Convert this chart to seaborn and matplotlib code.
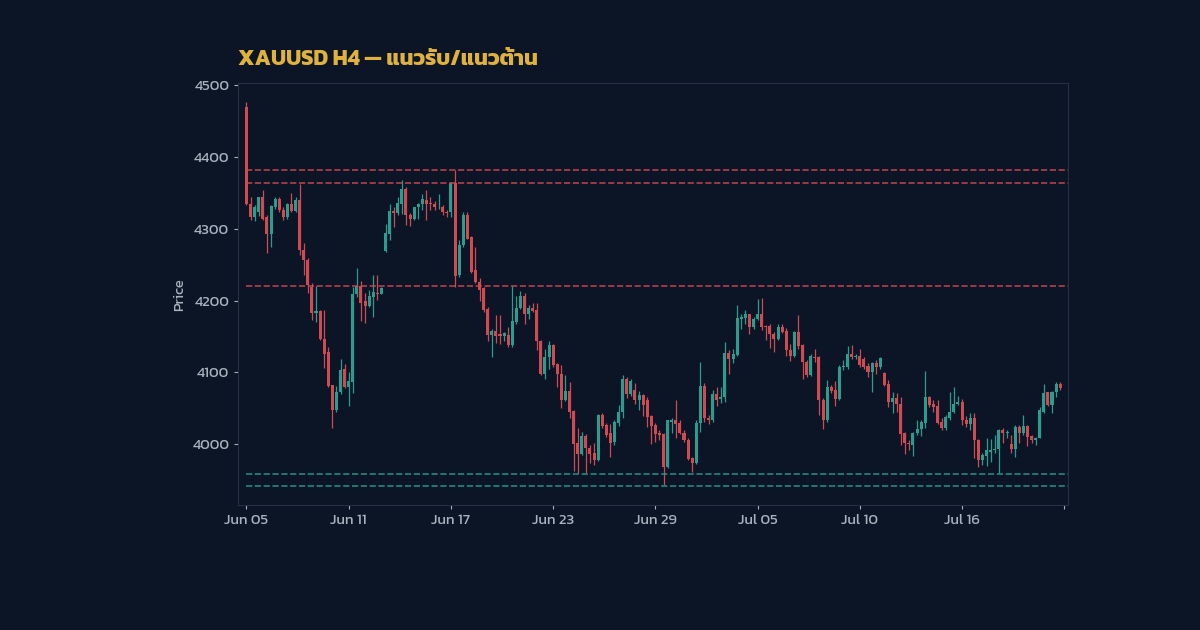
import numpy as np
import matplotlib
matplotlib.use("Agg")
import matplotlib.pyplot as plt
import seaborn as sns

# H4 candles (index 0 = Jun 05)
opens = [4470, 4335, 4317, 4324, 4345, 4317, 4293, 4331, 4342, 4326,
         4317, 4335, 4325, 4340, 4271, 4257, 4219, 4183, 4186, 4147,
         4129, 4082, 4047, 4073, 4104, 4079, 4087, 4209, 4220, 4200,
         4193, 4205, 4211, 4209, 4269, 4293, 4325, 4322, 4335, 4356,
         4320, 4314, 4330, 4334, 4340, 4336, 4334, 4334, 4331, 4324,
         4324, 4364, 4235, 4277, 4319, 4288, 4242, 4226, 4217, 4188,
         4152, 4158, 4153, 4150, 4152, 4138, 4170, 4189, 4207, 4182,
         4190, 4187, 4144, 4098, 4122, 4138, 4111, 4098, 4061, 4074,
         4046, 4002, 3986, 4011, 3994, 3987, 3978, 4040, 4027, 4015,
         4003, 4029, 4044, 4090, 4070, 4075, 4062, 4068, 4061, 4039,
         4026, 4016, 4014, 3968, 4031, 4033, 4029, 4015, 4006, 3980,
         3974, 4030, 4081, 4037, 4033, 4070, 4063, 4065, 4127, 4119,
         4124, 4175, 4176, 4181, 4163, 4175, 4182, 4165, 4165, 4154,
         4146, 4163, 4157, 4131, 4123, 4156, 4138, 4115, 4096, 4122,
         4122, 4061, 4033, 4080, 4075, 4063, 4108, 4108, 4126, 4121,
         4123, 4119, 4109, 4101, 4113, 4107, 4099, 4084, 4059, 4064,
         4056, 4016, 4002, 3999, 4016, 4021, 4030, 4066, 4056, 4053,
         4031, 4022, 4036, 4045, 4056, 4058, 4034, 4028, 4037, 4006,
         3978, 3983, 3989, 3992, 3993, 4019, 4015, 4000, 3993, 4024,
         4016, 4025, 4011, 4006, 4009, 4045, 4072, 4054, 4073, 4084]
highs = [4477, 4345, 4333, 4345, 4354, 4320, 4333, 4345, 4345, 4331,
         4336, 4350, 4344, 4363, 4280, 4259, 4224, 4220, 4187, 4187,
         4136, 4083, 4081, 4118, 4112, 4100, 4219, 4246, 4228, 4210,
         4215, 4235, 4235, 4219, 4307, 4335, 4331, 4344, 4368, 4358,
         4322, 4331, 4336, 4349, 4354, 4345, 4339, 4349, 4333, 4327,
         4365, 4382, 4285, 4324, 4324, 4290, 4275, 4231, 4219, 4191,
         4161, 4180, 4180, 4156, 4163, 4221, 4206, 4213, 4211, 4194,
         4196, 4197, 4145, 4132, 4144, 4140, 4113, 4110, 4096, 4087,
         4047, 4022, 4017, 4014, 3999, 4001, 4042, 4043, 4030, 4028,
         4033, 4054, 4096, 4093, 4091, 4085, 4074, 4070, 4066, 4040,
         4029, 4020, 4015, 4034, 4036, 4062, 4033, 4020, 4009, 3982,
         4034, 4115, 4085, 4040, 4075, 4080, 4080, 4142, 4131, 4133,
         4194, 4182, 4187, 4182, 4177, 4202, 4203, 4166, 4167, 4156,
         4167, 4168, 4162, 4140, 4157, 4180, 4139, 4117, 4126, 4133,
         4123, 4064, 4089, 4083, 4088, 4110, 4117, 4137, 4138, 4126,
         4133, 4121, 4113, 4115, 4117, 4121, 4100, 4089, 4073, 4071,
         4066, 4017, 4006, 4017, 4034, 4034, 4102, 4067, 4061, 4061,
         4037, 4040, 4073, 4080, 4067, 4063, 4039, 4043, 4043, 4007,
         3987, 4008, 4007, 4013, 4021, 4022, 4019, 4013, 4027, 4026,
         4040, 4027, 4013, 4010, 4052, 4084, 4073, 4074, 4086, 4086]
lows = [4333, 4313, 4311, 4318, 4312, 4267, 4275, 4328, 4324, 4312,
        4314, 4324, 4324, 4263, 4235, 4210, 4173, 4170, 4145, 4106,
        4080, 4023, 4045, 4070, 4078, 4053, 4071, 4205, 4171, 4169,
        4191, 4177, 4201, 4209, 4268, 4284, 4303, 4319, 4321, 4305,
        4304, 4312, 4314, 4326, 4313, 4326, 4327, 4328, 4319, 4317,
        4317, 4219, 4233, 4275, 4286, 4238, 4224, 4200, 4184, 4143,
        4122, 4141, 4140, 4143, 4136, 4136, 4168, 4188, 4168, 4174,
        4184, 4131, 4096, 4090, 4104, 4108, 4080, 4050, 4060, 4036,
        3962, 3960, 3985, 3960, 3973, 3971, 3977, 4022, 4010, 3982,
        3999, 4025, 4036, 4064, 4067, 4056, 4047, 4039, 4024, 4000,
        4003, 4006, 3943, 3967, 4015, 4008, 4014, 4003, 3978, 3961,
        3972, 4017, 4031, 4028, 4031, 4053, 4057, 4059, 4098, 4113,
        4123, 4161, 4168, 4154, 4161, 4173, 4159, 4145, 4134, 4129,
        4145, 4155, 4123, 4116, 4122, 4133, 4091, 4094, 4095, 4115,
        4040, 4021, 4031, 4071, 4053, 4061, 4103, 4105, 4118, 4119,
        4108, 4104, 4094, 4072, 4097, 4105, 4081, 4051, 4043, 4045,
        3999, 3986, 3992, 3983, 4013, 4011, 4022, 4051, 4044, 4028,
        4020, 4019, 4034, 4043, 4054, 4026, 4024, 4020, 3980, 3968,
        3971, 3969, 3975, 3987, 3959, 4001, 4008, 3988, 3982, 4001,
        4013, 3997, 4001, 3999, 4008, 4043, 4053, 4043, 4065, 4075]
closes = [4335, 4317, 4330, 4345, 4314, 4293, 4332, 4342, 4326, 4316,
          4335, 4325, 4340, 4270, 4257, 4222, 4183, 4185, 4146, 4126,
          4081, 4047, 4073, 4103, 4079, 4088, 4209, 4220, 4196, 4192,
          4206, 4212, 4209, 4218, 4294, 4325, 4322, 4336, 4356, 4319,
          4314, 4330, 4334, 4341, 4335, 4334, 4330, 4335, 4323, 4322,
          4364, 4234, 4277, 4319, 4286, 4240, 4226, 4215, 4187, 4152,
          4158, 4150, 4150, 4155, 4138, 4171, 4190, 4207, 4182, 4189,
          4186, 4143, 4098, 4122, 4138, 4110, 4098, 4061, 4074, 4045,
          4000, 3986, 4011, 3994, 3986, 3978, 4040, 4025, 4013, 4001,
          4031, 4045, 4090, 4070, 4088, 4061, 4068, 4054, 4038, 4025,
          4014, 4013, 3968, 4033, 4033, 4028, 4015, 4005, 3979, 3974,
          4030, 4081, 4036, 4033, 4070, 4062, 4065, 4127, 4119, 4125,
          4176, 4177, 4181, 4163, 4175, 4182, 4163, 4163, 4153, 4146,
          4163, 4156, 4131, 4123, 4156, 4137, 4114, 4096, 4123, 4120,
          4061, 4033, 4080, 4074, 4063, 4108, 4109, 4126, 4121, 4123,
          4110, 4108, 4101, 4113, 4107, 4120, 4082, 4059, 4064, 4056,
          4014, 4001, 4000, 4016, 4021, 4031, 4066, 4055, 4051, 4030,
          4022, 4038, 4045, 4056, 4058, 4034, 4028, 4037, 4006, 3978,
          3985, 3991, 3992, 3993, 4019, 4015, 4017, 3993, 4024, 4016,
          4025, 4010, 4006, 4009, 4047, 4071, 4054, 4073, 4084, 4078]

resistance = [4382, 4364, 4221]
support = [3958, 3942]

tick_pos = list(range(0, 201, 25))
tick_labels = ["Jun 05", "Jun 11", "Jun 17", "Jun 23", "Jun 29",
               "Jul 05", "Jul 10", "Jul 16", ""]

BG = "#0b1526"
UP = "#2a9d8f"
DOWN = "#cf4a51"
TXT = "#a9b1bd"
GOLD = "#dfb23d"
EDGE = "#243044"

sns.set_theme(style="dark", rc={
    "figure.facecolor": BG,
    "axes.facecolor": BG,
    "axes.edgecolor": EDGE,
    "axes.linewidth": 0.8,
    "axes.grid": False,
    "xtick.color": TXT,
    "ytick.color": TXT,
    "axes.labelcolor": TXT,
    "xtick.bottom": True,
    "ytick.left": True,
    "xtick.major.size": 3,
    "ytick.major.size": 3,
})
plt.rcParams["font.family"] = ["Kanit", "DejaVu Sans"]

x = np.arange(len(opens))
o = np.array(opens, dtype=float)
h = np.array(highs, dtype=float)
l = np.array(lows, dtype=float)
c = np.array(closes, dtype=float)
colors = np.where(c >= o, UP, DOWN)

fig = plt.figure(figsize=(12, 6.3), dpi=100)
ax = fig.add_axes([0.1986, 0.1984, 0.6917, 0.6694])

# wicks + bodies
ax.vlines(x, l, h, colors=colors, lw=0.9)
body = np.maximum(np.abs(c - o), 1.2)
ax.bar(x, body, bottom=np.minimum(o, c), width=0.74, color=colors, linewidth=0)

ax.set_xlim(-2, 201)
ax.set_ylim(3915, 4503)
right = ax.get_xlim()[1]
ax.hlines(resistance, 0, right, colors=DOWN, linestyles="--", lw=1.2, alpha=0.85)
ax.hlines(support, 0, right, colors=UP, linestyles="--", lw=1.2, alpha=0.85)

ax.set_xticks(tick_pos)
ax.set_xticklabels(tick_labels)
ax.set_yticks([4000, 4100, 4200, 4300, 4400, 4500])
ax.tick_params(labelsize=10.7, colors=TXT, width=0.8)
for s in ax.spines.values():
    s.set_color(EDGE)

ax.set_ylabel("Price", fontsize=10.5)
ax.yaxis.set_label_coords(-0.063, 0.5)

fig.text(0.1986, 1 - 64.7 / 630, "XAUUSD H4 — แนวรับ/แนวต้าน",
         ha="left", va="baseline", color=GOLD, fontsize=15.8, fontweight="bold")

fig.savefig("out.png", dpi=100, facecolor=BG)
